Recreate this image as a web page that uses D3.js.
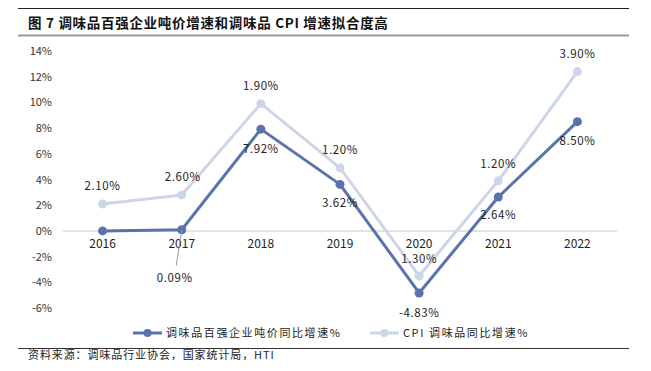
<!DOCTYPE html>
<html>
<head>
<meta charset="utf-8">
<script src="https://cdn.jsdelivr.net/npm/d3@7"></script>
<style>
  body { margin: 0; background: #fff; }
  svg text { font-family: "Noto Sans CJK SC", "Noto Sans", sans-serif; }
</style>
</head>
<body>
<div id="chart"></div>
<script>
// datos del gráfico
const years = ["2016", "2017", "2018", "2019", "2020", "2021", "2022"];
const tonPrice = [0.0, 0.09, 7.92, 3.62, -4.83, 2.64, 8.50];
const tonPriceLabels = [null, "0.09%", "7.92%", "3.62%", "-4.83%", "2.64%", "8.50%"];
const cpiPlotted = [2.1, 2.8, 9.9, 4.9, -3.5, 3.9, 12.4];
const cpiLabels = ["2.10%", "2.60%", "1.90%", "1.20%", "1.30%", "1.20%", "3.90%"];
const yTicks = [-6, -4, -2, 0, 2, 4, 6, 8, 10, 12, 14];
const seriesNames = ["调味品百强企业吨价同比增速%", "CPI 调味品同比增速%"];
const title = "图 7 调味品百强企业吨价增速和调味品 CPI 增速拟合度高";
const source = "资料来源：调味品行业协会，国家统计局，HTI";

const width = 651, height = 371;
const margin = { top: 51, right: 34, bottom: 63, left: 63 };
const darkBlue = "#5a73ad", lightBlue = "#cdd5e8";

const svg = d3.select("#chart").append("svg")
    .attr("width", width)
    .attr("height", height);

// encabezado
svg.append("line").attr("x1", 18).attr("x2", 629).attr("y1", 8.5).attr("y2", 8.5)
    .attr("stroke", "#222").attr("stroke-width", 1);
svg.append("text").attr("x", 28).attr("y", 28)
    .attr("font-size", 13.5).attr("font-weight", "bold").attr("fill", "#111")
    .attr("letter-spacing", 0.7)
    .text(title);
svg.append("line").attr("x1", 18).attr("x2", 629).attr("y1", 35.5).attr("y2", 35.5)
    .attr("stroke", "#999").attr("stroke-width", 2);

const x = d3.scaleBand()
    .domain(years)
    .range([margin.left, width - margin.right]);

const y = d3.scaleLinear()
    .domain([-6, 14])
    .range([height - margin.bottom, margin.top]);

// eje Y
const yAxis = d3.axisLeft(y)
    .tickValues(yTicks)
    .tickFormat(d => `${d}%`)
    .tickSize(0)
    .tickPadding(11);
const gy = svg.append("g")
    .attr("transform", `translate(${margin.left},0)`)
    .call(yAxis);
gy.select(".domain").remove();
gy.selectAll("text").attr("font-size", 11).attr("fill", "#333");

// línea del cero
svg.append("line")
    .attr("x1", margin.left).attr("x2", width - margin.right)
    .attr("y1", y(0)).attr("y2", y(0))
    .attr("stroke", "#d9d9d9").attr("stroke-width", 1.5);

// eje X (etiquetas junto a la línea del cero)
const xAxis = d3.axisBottom(x).tickSize(0).tickPadding(9);
const gx = svg.append("g")
    .attr("transform", `translate(0,${y(0)})`)
    .call(xAxis);
gx.select(".domain").remove();
gx.selectAll("text").attr("font-size", 12).attr("fill", "#222");

const cx = d => x(d) + x.bandwidth() / 2;

function drawSeries(values, color) {
    const line = d3.line()
        .x((d, i) => cx(years[i]))
        .y(d => y(d));
    svg.append("path")
        .datum(values)
        .attr("fill", "none")
        .attr("stroke", color)
        .attr("stroke-width", 3)
        .attr("stroke-linejoin", "round")
        .attr("d", line);
    svg.selectAll(null)
        .data(values)
        .enter()
        .append("circle")
        .attr("cx", (d, i) => cx(years[i]))
        .attr("cy", d => y(d))
        .attr("r", 4.5)
        .attr("fill", color);
}

drawSeries(cpiPlotted, lightBlue);
drawSeries(tonPrice, darkBlue);

// línea guía de la etiqueta 0.09%
svg.append("line")
    .attr("x1", cx("2017")).attr("y1", y(tonPrice[1]))
    .attr("x2", cx("2017") - 5.5).attr("y2", y(tonPrice[1]) + 36)
    .attr("stroke", "#999").attr("stroke-width", 1);

// etiquetas de datos
const labelStyle = sel => sel
    .attr("font-size", 11.5)
    .attr("fill", "#222")
    .attr("letter-spacing", 0.6)
    .attr("text-anchor", "middle");

// desplazamientos de las etiquetas (dx, dy)
const tonOffsets = [null, [-7, 52], [0, 24], [0, 23], [0, 24], [0, 22], [0, 23]];
const cpiOffsets = [[0, -14], [1, -14], [0, -14], [0, -14], [0, -13], [0, -13], [0, -14]];

tonPrice.forEach((v, i) => {
    if (!tonPriceLabels[i]) return;
    svg.append("text")
        .call(labelStyle)
        .attr("x", cx(years[i]) + tonOffsets[i][0])
        .attr("y", y(v) + tonOffsets[i][1])
        .text(tonPriceLabels[i]);
});

cpiPlotted.forEach((v, i) => {
    svg.append("text")
        .call(labelStyle)
        .attr("x", cx(years[i]) + cpiOffsets[i][0])
        .attr("y", y(v) + cpiOffsets[i][1])
        .text(cpiLabels[i]);
});

// leyenda
const legendItems = [
    { name: seriesNames[0], color: darkBlue, x: 133 },
    { name: seriesNames[1], color: lightBlue, x: 370 }
];
const legendY = 333;
legendItems.forEach(item => {
    svg.append("line")
        .attr("x1", item.x).attr("x2", item.x + 29)
        .attr("y1", legendY).attr("y2", legendY)
        .attr("stroke", item.color).attr("stroke-width", 3);
    svg.append("circle")
        .attr("cx", item.x + 14.5).attr("cy", legendY).attr("r", 4)
        .attr("fill", item.color);
    svg.append("text")
        .attr("x", item.x + 33).attr("y", legendY + 4)
        .attr("font-size", 11).attr("letter-spacing", 1.6)
        .attr("fill", "#222")
        .text(item.name);
});

// fuente
svg.append("line").attr("x1", 18).attr("x2", 629).attr("y1", 348.5).attr("y2", 348.5)
    .attr("stroke", "#333").attr("stroke-width", 1);
svg.append("text").attr("x", 28).attr("y", 359)
    .attr("font-size", 11).attr("fill", "#222").attr("letter-spacing", 0.9)
    .text(source);
</script>
</body>
</html>
